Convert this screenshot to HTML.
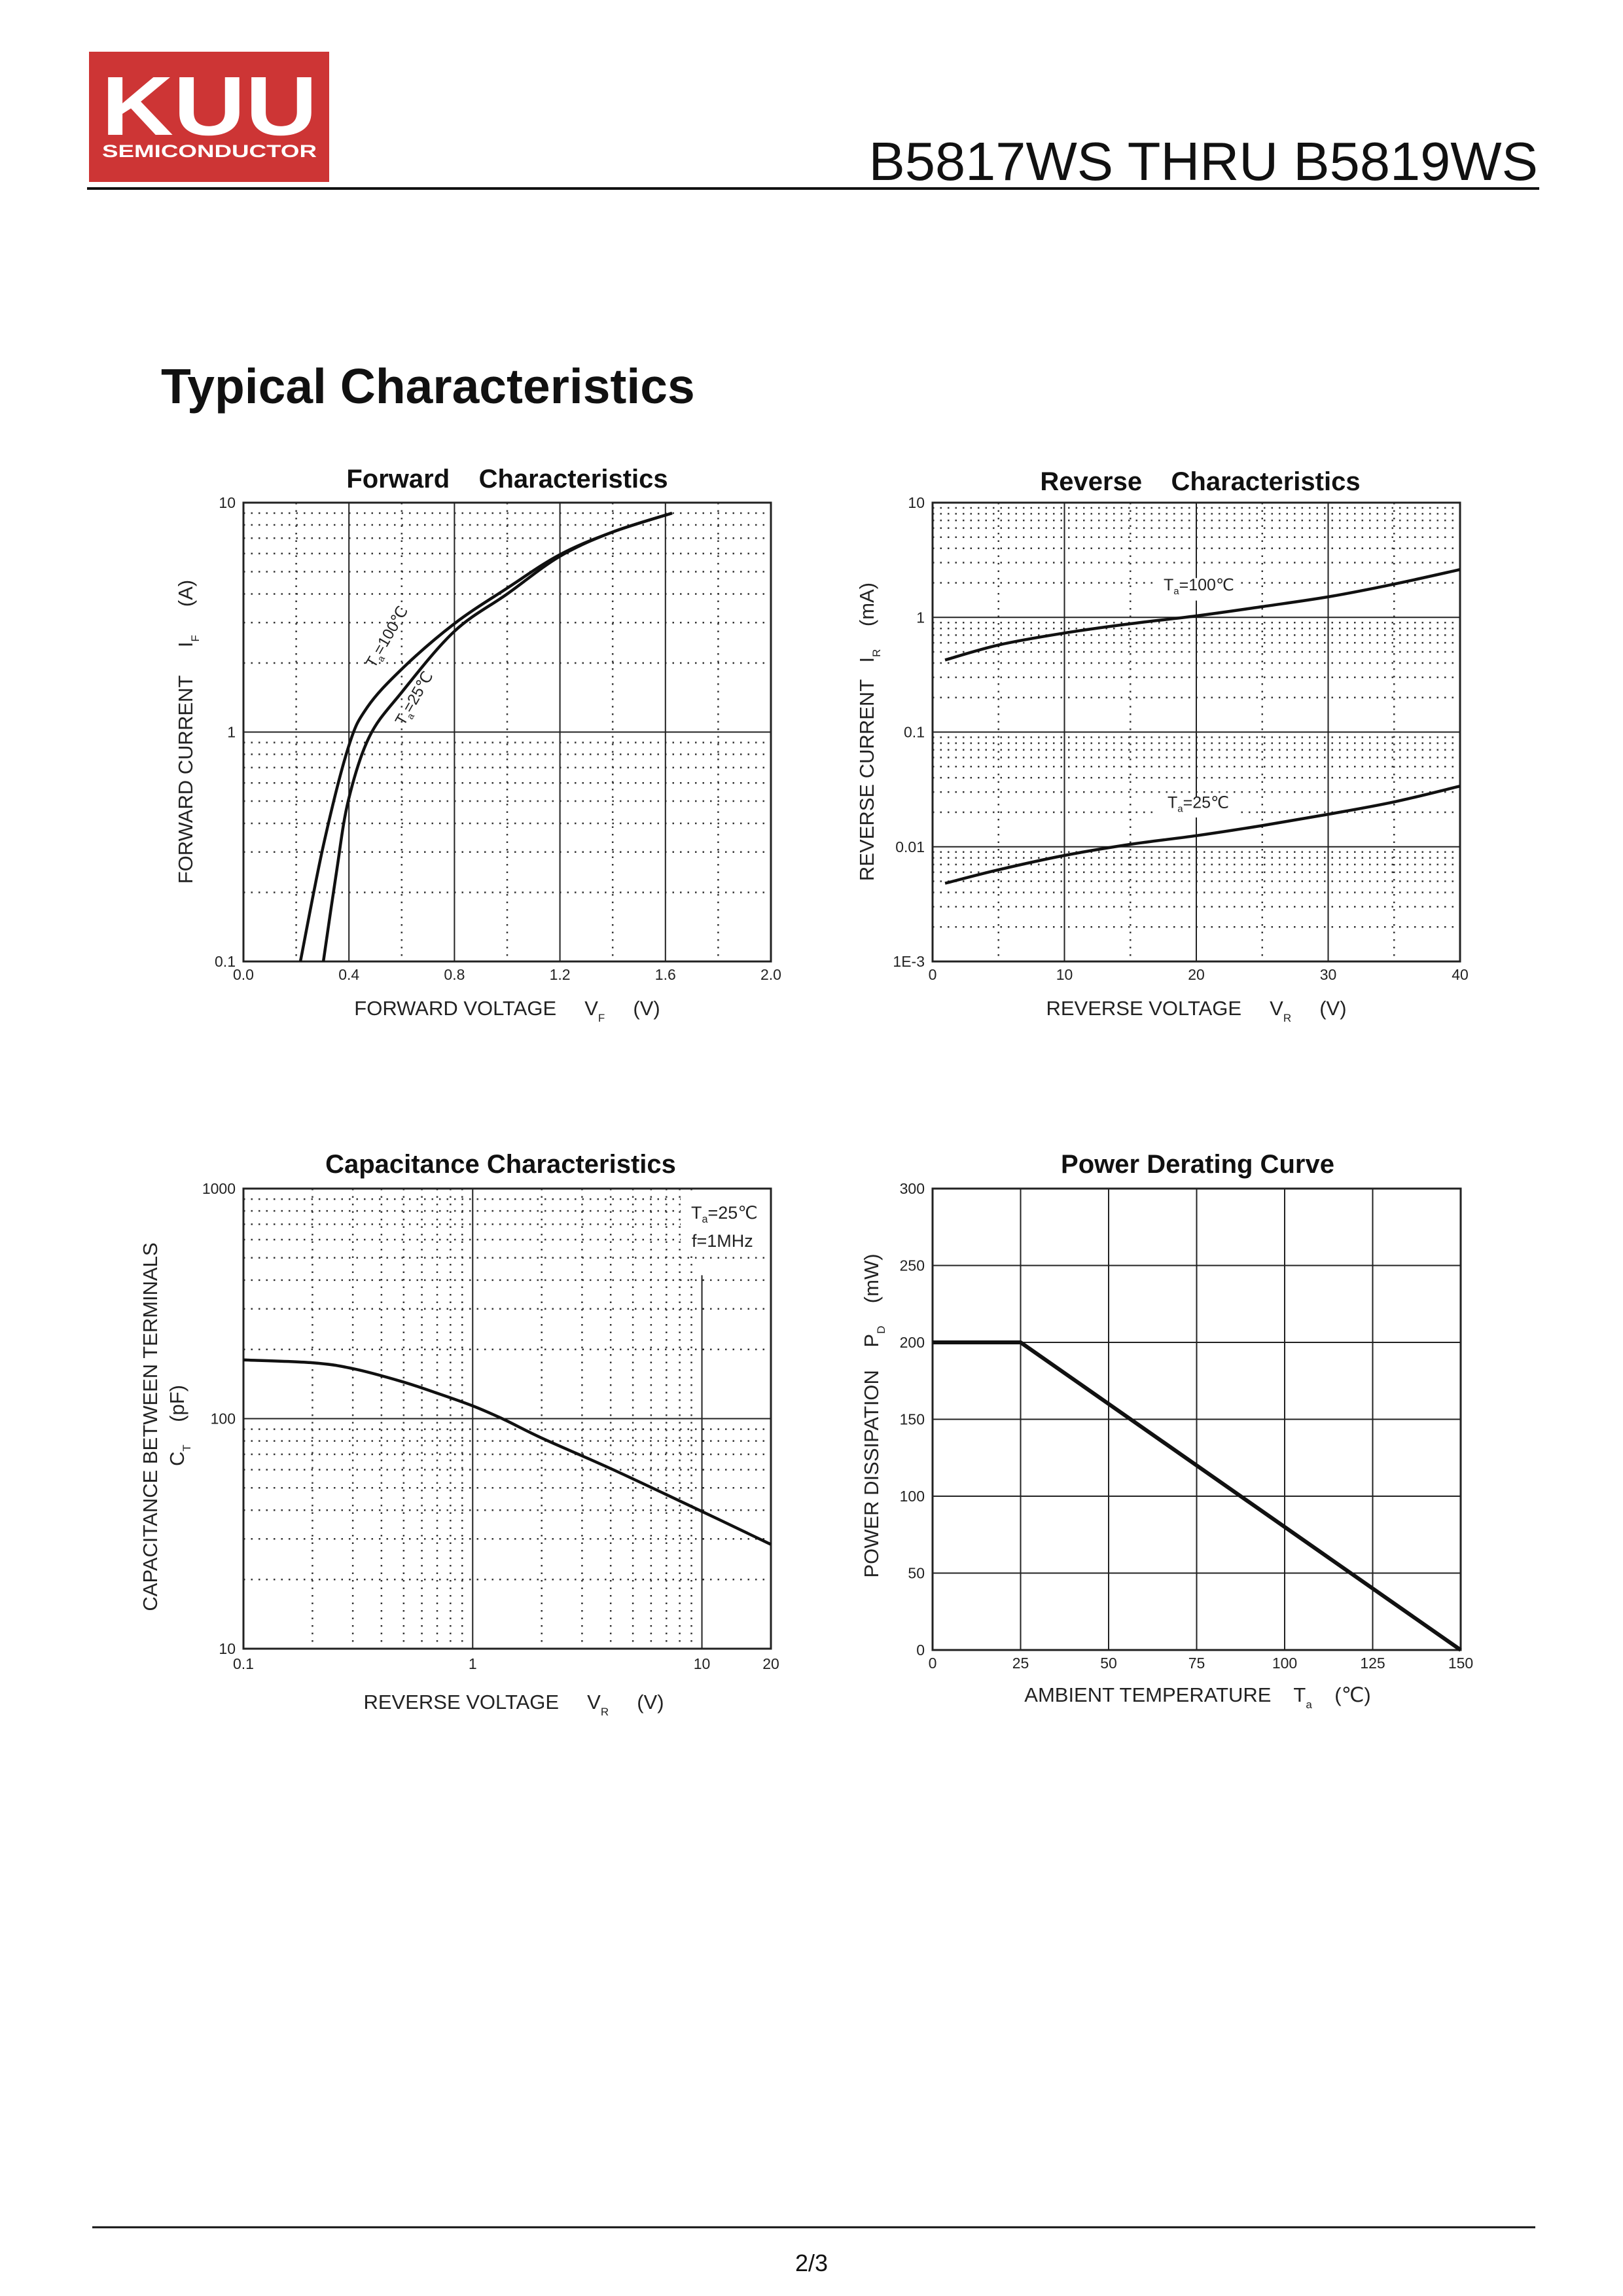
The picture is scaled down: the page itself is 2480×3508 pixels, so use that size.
<!DOCTYPE html>
<html><head><meta charset="utf-8">
<style>
html,body{margin:0;padding:0;background:#fff;}
body{width:2480px;height:3508px;position:relative;overflow:hidden;font-family:"Liberation Sans",Arial,sans-serif;}
svg{position:absolute;left:0;top:0;}
text{white-space:pre;}
</style></head>
<body>
<svg id="page" width="2480" height="3508" viewBox="0 0 2480 3508" xmlns="http://www.w3.org/2000/svg" font-family="Liberation Sans, Arial, sans-serif">
  <g>
    <rect x="136" y="79" width="367" height="199" fill="#cd3535"/>
    <text x="155" y="206" font-size="128" font-weight="bold" fill="#fff" textLength="330" lengthAdjust="spacingAndGlyphs">KUU</text>
    <text x="156" y="240" font-size="27" font-weight="bold" fill="#fff" textLength="328" lengthAdjust="spacingAndGlyphs">SEMICONDUCTOR</text>
  </g>
  <text x="2350" y="275" text-anchor="end" font-size="83" fill="#111">B5817WS THRU B5819WS</text>
  <line x1="133" y1="288" x2="2352" y2="288" stroke="#111" stroke-width="4"/>
  <text x="246" y="616" font-size="75" font-weight="bold" fill="#111">Typical Characteristics</text>
  <line x1="141" y1="3403" x2="2346" y2="3403" stroke="#111" stroke-width="3"/>
  <text x="1240" y="3470" text-anchor="middle" font-size="36" fill="#111">2/3</text>
  <g id="charts"></g>
</svg>
<script>
// ---- Forward characteristics data ----
const fwdCurrent = [0.1, 0.32, 0.86, 1.28, 1.89, 2.97, 4.24, 5.94, 7.45, 9.0];
const fwdV100 = [0.216, 0.303, 0.398, 0.469, 0.602, 0.80, 1.0, 1.2, 1.4, 1.625];
const fwdCurrent25 = [0.1, 0.247, 0.505, 0.957, 1.5, 2.75, 4.0, 5.84, 7.45, 9.0];
const fwdV25 = [0.303, 0.353, 0.398, 0.478, 0.602, 0.80, 1.0, 1.2, 1.4, 1.625];
const fwdXTicks = ["0.0","0.4","0.8","1.2","1.6","2.0"];
const fwdYTicks = ["0.1","1","10"];
// ---- Reverse characteristics data ----
const revVoltage = [0.95, 5, 10, 15, 20, 25, 30, 35, 40];
const revI100 = [0.425, 0.574, 0.73, 0.88, 1.03, 1.24, 1.51, 1.95, 2.61];
const revI25 = [0.0048, 0.0063, 0.0084, 0.0105, 0.0125, 0.0153, 0.0192, 0.0246, 0.0338];
const revXTicks = ["0","10","20","30","40"];
const revYTicks = ["1E-3","0.01","0.1","1","10"];
// ---- Capacitance data ----
const capVoltage = [0.1, 0.2, 0.3, 0.49, 0.7, 1, 1.36, 2.02, 4.1, 10, 20];
const capPF = [180, 175, 165, 145, 129, 113.6, 99.5, 82, 60, 39.5, 28.4];
const capXTicks = ["0.1","1","10","20"];
const capYTicks = ["10","100","1000"];
// ---- Power derating data ----
const pwrTemp = [0, 25, 150];
const pwrMW = [200, 200, 0];
const pwrXTicks = ["0","25","50","75","100","125","150"];
const pwrYTicks = ["0","50","100","150","200","250","300"];

const NS = "http://www.w3.org/2000/svg";
const root = document.getElementById('charts');
function mk(tag, attrs, parent, txt){
  const e = document.createElementNS(NS, tag);
  for (const k in attrs) e.setAttribute(k, attrs[k]);
  if (txt !== undefined) e.textContent = txt;
  (parent || root).appendChild(e);
  return e;
}
function linScale(d0,d1,r0,r1){return v => r0 + (v-d0)/(d1-d0)*(r1-r0);}
function logScale(d0,d1,r0,r1){return v => r0 + (Math.log10(v)-Math.log10(d0))/(Math.log10(d1)-Math.log10(d0))*(r1-r0);}
const DOT = {stroke:"#333","stroke-width":2.5,"stroke-dasharray":"2.5 9"};
const SOLID = {stroke:"#222","stroke-width":2};
function vline(g,x,y0,y1,st){return mk('line',Object.assign({x1:x,x2:x,y1:y0,y2:y1},st),g);}
function hline(g,y,x0,x1,st){return mk('line',Object.assign({x1:x0,x2:x1,y1:y,y2:y},st),g);}
function border(g,L,T,R,B){const r=mk('rect',{x:L,y:T,width:R-L,height:B-T,fill:"none",stroke:"#222","stroke-width":3},g);}
function curve(g,xs,ys,sx,sy,name,w,smooth){
  const P = xs.map((v,i)=>[sx(v), sy(ys[i])]);
  let d = 'M'+P[0][0].toFixed(1)+' '+P[0][1].toFixed(1);
  for(let i=0;i<P.length-1;i++){
    if(!smooth){ d += ' L'+P[i+1][0].toFixed(1)+' '+P[i+1][1].toFixed(1); continue; }
    const p0=P[Math.max(i-1,0)], p1=P[i], p2=P[i+1], p3=P[Math.min(i+2,P.length-1)];
    const c1=[p1[0]+(p2[0]-p0[0])/6, p1[1]+(p2[1]-p0[1])/6];
    const c2=[p2[0]-(p3[0]-p1[0])/6, p2[1]-(p3[1]-p1[1])/6];
    d += ` C${c1[0].toFixed(1)} ${c1[1].toFixed(1)} ${c2[0].toFixed(1)} ${c2[1].toFixed(1)} ${p2[0].toFixed(1)} ${p2[1].toFixed(1)}`;
  }
  const p = mk('path',{d:d,fill:"none",stroke:"#111","stroke-width":w||4.5,"stroke-linejoin":"round"},g);
  
  
  return p;
}
function logMinorsY(g,d0,d1,sy,L,R){
  for(let dec=d0; dec<d1*0.999; dec*=10){
    for(let k=2;k<=9;k++) hline(g,sy(dec*k),L,R,DOT);
  }
}
function tickText(g,x,y,t,anchor,name){
  const e = mk('text',{x:x,y:y,"font-size":23,fill:"#222","text-anchor":anchor||"middle"},g,t);
  
  
  return e;
}
function titleText(g,x,y,t,name){
  const e = mk('text',{x:x,y:y,"font-size":40,"font-weight":"bold",fill:"#111","text-anchor":"middle"},g,t);
  
  
}
function axisTitle(g,x,y,main,sub,unit,rot,name,gap1,gap2){
  const tr = rot ? `rotate(-90 ${x} ${y})` : '';
  const e = mk('text',{x:x,y:y,"font-size":31,fill:"#222","text-anchor":"middle",transform:tr},g);
  
  
  mk('tspan',{},e,main+(gap1||'     '));
  mk('tspan',{},e,sub[0]);
  mk('tspan',{"font-size":17,dy:10},e,sub[1]);
  mk('tspan',{dy:-10},e,(gap2||'     ')+unit);
}
function tempLabel(g,x,y,val,rot,name,fs){
  fs = fs||24;
  const tr = rot ? `rotate(${rot} ${x} ${y})` : '';
  const e = mk('text',{x:x,y:y,"font-size":fs,fill:"#222",transform:tr},g);
  
  
  mk('tspan',{},e,'T');
  mk('tspan',{"font-size":fs*0.6,dy:6},e,'a');
  mk('tspan',{dy:-6},e,'='+val+'\u2103');
}

// ================= Forward =================
(function(){
  const L=372,R=1178,T=768,B=1469;
  const g = mk('g',{});
  
  
  const sx = linScale(0,2,L,R), sy = logScale(0.1,10,B,T);
  logMinorsY(g,0.1,10,sy,L,R);
  for(let v=0.2; v<2; v+=0.4) vline(g,sx(v),T,B,DOT);
  fwdXTicks.forEach(t=>{const v=parseFloat(t); if(v>0&&v<2) vline(g,sx(v),T,B,SOLID);});
  hline(g,sy(1),L,R,SOLID);
  border(g,L,T,R,B);
  curve(g,fwdV100,fwdCurrent,sx,sy,'curve-ta-100c',4.5,true);
  curve(g,fwdV25,fwdCurrent25,sx,sy,'curve-ta-25c',4.5,true);
  fwdXTicks.forEach(t=>tickText(g,sx(parseFloat(t)),1497,t,'middle','x-tick-label'));
  fwdYTicks.forEach(t=>tickText(g,360,sy(parseFloat(t))+8,t,'end','y-tick-label'));
  titleText(g,775,745,'Forward    Characteristics','chart-title-forward');
  axisTitle(g,775,1551,'FORWARD VOLTAGE',['V','F'],'(V)',false,'x-axis-title');
  axisTitle(g,294,1118,'FORWARD CURRENT',['I','F'],'(A)',true,'y-axis-title');
  tempLabel(g,572,1022,'100',-60,'label-ta-100c');
  tempLabel(g,617,1110,'25',-60,'label-ta-25c');
})();

// ================= Reverse =================
(function(){
  const L=1425,R=2231,T=768,B=1469;
  const g = mk('g',{});
  
  
  const sx = linScale(0,40,L,R), sy = logScale(0.001,10,B,T);
  logMinorsY(g,0.001,10,sy,L,R);
  for(let v=5; v<40; v+=10) vline(g,sx(v),T,B,DOT);
  [0.01,0.1,1].forEach(v=>hline(g,sy(v),L,R,SOLID));
  vline(g,sx(10),T,B,SOLID); vline(g,sx(30),T,B,SOLID);
  vline(g,sx(20),T,sy(2.2),SOLID); vline(g,sx(20),sy(1.4),sy(0.027),SOLID); vline(g,sx(20),sy(0.018),B,SOLID);
  border(g,L,T,R,B);
  mk('rect',{x:sx(20)-62,y:sy(2.2)+1,width:124,height:sy(1.4)-sy(2.2)-2,fill:"#fff"},g);
  mk('rect',{x:sx(20)-62,y:sy(0.027)+1,width:124,height:sy(0.018)-sy(0.027)-2,fill:"#fff"},g);
  curve(g,revVoltage,revI100,sx,sy,'curve-ta-100c',4.5,true);
  curve(g,revVoltage,revI25,sx,sy,'curve-ta-25c',4.5,true);
  tempLabel(g,sx(20)-50,sy(1.72),'100',0,'label-ta-100c',25);
  tempLabel(g,sx(20)-44,sy(0.036)+38,'25',0,'label-ta-25c',25);
  revXTicks.forEach(t=>tickText(g,sx(parseFloat(t)),1497,t,'middle','x-tick-label'));
  revYTicks.forEach(t=>tickText(g,1413,sy(parseFloat(t))+8,t,'end','y-tick-label'));
  titleText(g,1834,749,'Reverse    Characteristics','chart-title-reverse');
  axisTitle(g,1828,1551,'REVERSE VOLTAGE',['V','R'],'(V)',false,'x-axis-title');
  axisTitle(g,1335,1118,'REVERSE CURRENT',['I','R'],'(mA)',true,'y-axis-title','   ','    ');
})();

// ================= Capacitance =================
(function(){
  const L=372,R=1178,T=1816,B=2519;
  const g = mk('g',{});
  
  
  const sx = logScale(0.1,20,L,R), sy = logScale(10,1000,B,T);
  logMinorsY(g,10,1000,sy,L,R);
  [0.1,1].forEach(dec=>{for(let k=2;k<=9;k++) vline(g,sx(dec*k),T,B,DOT);});
  hline(g,sy(100),L,R,SOLID);
  vline(g,sx(1),T,B,SOLID);
  vline(g,sx(10),sy(420),B,SOLID);
  mk('rect',{x:1040,y:T+4,width:134,height:92,fill:"#fff"},g);
  border(g,L,T,R,B);
  curve(g,capVoltage,capPF,sx,sy,'curve-capacitance',4.5,true);
  tempLabel(g,1056,1862,'25',0,'label-ta-25c',27);
  const f = mk('text',{x:1057,y:1905,"font-size":27,fill:"#222"},g,'f=1MHz');
  
  
  capXTicks.forEach(t=>tickText(g,sx(parseFloat(t)),2550,t,'middle','x-tick-label'));
  capYTicks.forEach(t=>tickText(g,360,sy(parseFloat(t))+8,t,'end','y-tick-label'));
  titleText(g,765,1792,'Capacitance Characteristics','chart-title-capacitance');
  axisTitle(g,785,2611,'REVERSE VOLTAGE',['V','R'],'(V)',false,'x-axis-title');
  const yt = mk('text',{x:240,y:2180,"font-size":31,fill:"#222","text-anchor":"middle",transform:"rotate(-90 240 2180)"},g,'CAPACITANCE BETWEEN TERMINALS');
  
  
  const yt2 = mk('text',{x:281,y:2178,"font-size":31,fill:"#222","text-anchor":"middle",transform:"rotate(-90 281 2178)"},g);
  
  
  mk('tspan',{},yt2,'C');
  mk('tspan',{"font-size":17,dy:10},yt2,'T');
  mk('tspan',{dy:-10},yt2,'    (pF)');
})();

// ================= Power derating =================
(function(){
  const L=1425,R=2232,T=1816,B=2521;
  const g = mk('g',{});
  
  
  const sx = linScale(0,150,L,R), sy = linScale(0,300,B,T);
  pwrXTicks.forEach(t=>{const v=parseFloat(t); if(v>0&&v<150) vline(g,sx(v),T,B,SOLID);});
  pwrYTicks.forEach(t=>{const v=parseFloat(t); if(v>0&&v<300) hline(g,sy(v),L,R,SOLID);});
  border(g,L,T,R,B);
  curve(g,pwrTemp,pwrMW,sx,sy,'curve-power-derating',6,false);
  pwrXTicks.forEach(t=>tickText(g,sx(parseFloat(t)),2549,t,'middle','x-tick-label'));
  pwrYTicks.forEach(t=>tickText(g,1413,sy(parseFloat(t))+8,t,'end','y-tick-label'));
  titleText(g,1830,1792,'Power Derating Curve','chart-title-power');
  axisTitle(g,1830,2600,'AMBIENT TEMPERATURE',['T','a'],'(\u2103)',false,'x-axis-title','    ','    ');
  axisTitle(g,1342,2163,'POWER DISSIPATION',['P','D'],'(mW)',true,'y-axis-title','    ','    ');
})();
</script>
</body></html>
